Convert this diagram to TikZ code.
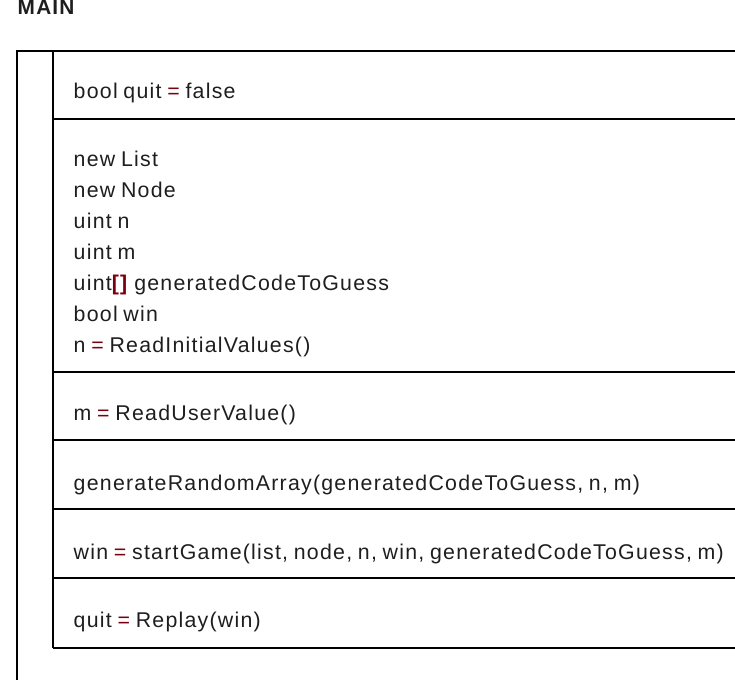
\documentclass[tikz,border=0pt]{standalone}
\usepackage{fontspec}
\setmainfont[LetterSpace=5.8,WordSpace=0.8]{Liberation Sans}
\usepackage{tikz}
\usetikzlibrary{positioning}
\usepackage{xcolor}
\definecolor{ink}{HTML}{1E1E1E}
\definecolor{opred}{HTML}{7A0010}
\newcommand{\opeq}{\textcolor{opred}{=}}

\begin{document}
\begin{tikzpicture}[x=0.75pt, y=-0.75pt, line width=1.1pt,
    font=\fontsize{16}{18}\selectfont,
    txt/.style={anchor=base west, inner sep=0pt, text=ink}]
    \useasboundingbox (0,0) rectangle (735,680);
    \clip (0,0) rectangle (735,680);
    % title
    \node[txt, font=\fontsize{15.6}{18}\selectfont\bfseries] (title) at (17,15) {MAIN};
    % outer frame and body column
    \draw (17,51) rectangle (760,700);
    \draw (53,51) -- (53,648);
    \draw (53,51) -- (760,51);
    \foreach \y in {119,372,440,509,578,648} \draw (53,\y) -- (760,\y);
    % rows
    \node[txt] (quitinit) at (73,99) {bool quit \opeq{} false};
    \node[txt] (newlist) at (73,167) {new List};
    \node[txt] (newnode) at (73,198) {new Node};
    \node[txt] (uintn) at (73,229) {uint n};
    \node[txt] (uintm) at (73,260) {uint m};
    \node[txt] (codearr) at (73,291) {uint\textcolor{opred}{\textbf{[]}} generatedCodeToGuess};
    \node[txt] (boolwin) at (73,322) {bool win};
    \node[txt] (readinit) at (73,353) {n \opeq{} ReadInitialValues()};
    \node[txt] (readuser) at (73,421) {m \opeq{} ReadUserValue()};
    \node[txt] (genarr) at (73,490) {generateRandomArray(generatedCodeToGuess, n, m)};
    \node[txt] (startgame) at (73,559) {win \opeq{} startGame(list, node, n, win, generatedCodeToGuess, m)};
    \node[txt] (replay) at (73,627) {quit \opeq{} Replay(win)};
\end{tikzpicture}
\end{document}
